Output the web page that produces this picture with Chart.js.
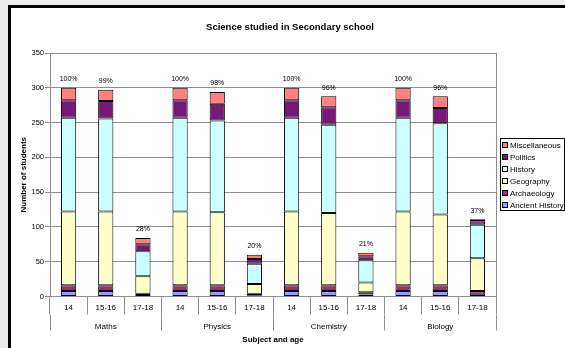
<!DOCTYPE html>
<html>
<head>
<meta charset="utf-8">
<script src="https://cdn.jsdelivr.net/npm/chart.js@4/dist/chart.umd.min.js"></script>
<style>
  html, body { margin: 0; padding: 0; background: #ececec; }
  #c { display: block; }
</style>
</head>
<body>
<canvas id="c" width="565" height="348"></canvas>
<script>
// ---- data ----
const chartTitle = 'Science studied in Secondary school';
const subjects = ['Maths', 'Physics', 'Chemistry', 'Biology'];
const ageGroups = ['14', '15-16', '17-18'];
const cohortSize = 300;            // students per age group; basis of the % labels
const yAxisMax = 350;
const yAxisStep = 50;

const seriesNames = ['Ancient History', 'Archaeology', 'Geography', 'History', 'Politics', 'Miscellaneous'];
const ancientHistory = [8, 8, 2,   8, 8, 1,   8, 8, 3,   8, 8, 4];
const archaeology    = [8, 8, 2,   8, 8, 3,   8, 8, 3,   8, 8, 4];
const geography      = [106, 106, 25,  106, 105, 14,  106, 104, 14,  106, 102, 47];
const history        = [135, 134, 36,  135, 132, 29,  135, 127, 32,  135, 131, 48];
const politics       = [25, 25, 10,  25, 24, 7,  25, 25, 6,  25, 22, 5];
const miscellaneous  = [18, 16, 9,   18, 17, 6,  18, 16, 5,  18, 17, 3];

// ---- styles ----
const FONT = '"Liberation Sans", Arial, sans-serif';
const GRID = '#8e8e8e';
const seriesColors = ['#9999FF', '#993366', '#FFFFCC', '#CCFFFF', '#771A77', '#FF8080'];

const seriesValues = [ancientHistory, archaeology, geography, history, politics, miscellaneous];
const categoryLabels = subjects.flatMap(() => ageGroups);

const datasets = seriesNames.map((name, i) => ({
  label: name,
  data: seriesValues[i],
  backgroundColor: seriesColors[i],
  borderColor: '#000',
  borderWidth: 1,
  borderSkipped: false,
  barPercentage: 0.41,
  categoryPercentage: 1
}));

// frame, page background and plot-area border
const framePlugin = {
  id: 'frame',
  beforeDraw(chart) {
    const ctx = chart.ctx;
    ctx.save();
    ctx.fillStyle = '#ececec';
    ctx.fillRect(0, 0, chart.width, chart.height);
    ctx.fillStyle = '#000';
    ctx.fillRect(8, 5, chart.width - 8, 3);
    ctx.fillRect(8, 5, 3, chart.height - 5);
    ctx.fillStyle = '#fff';
    ctx.fillRect(11, 8, chart.width - 11, chart.height - 8);
    ctx.restore();
  },
  beforeDatasetsDraw(chart) {
    const a = chart.chartArea, ctx = chart.ctx;
    ctx.save();
    ctx.strokeStyle = GRID;
    ctx.lineWidth = 1;
    ctx.beginPath();
    ctx.moveTo(Math.round(a.right) + 0.5, a.top);
    ctx.lineTo(Math.round(a.right) + 0.5, a.bottom);
    ctx.stroke();
    ctx.restore();
  }
};

// heading text
const headingPlugin = {
  id: 'heading',
  afterDraw(chart) {
    const ctx = chart.ctx;
    ctx.save();
    ctx.font = 'bold 9.5px ' + FONT;
    ctx.fillStyle = '#000';
    ctx.textAlign = 'center';
    ctx.textBaseline = 'middle';
    ctx.fillText(chartTitle, 290, 27.5);
    ctx.restore();
  }
};

// percentage of the cohort above each stacked column
const percentPlugin = {
  id: 'percentLabels',
  afterDatasetsDraw(chart) {
    const ctx = chart.ctx, y = chart.scales.y, x = chart.scales.x;
    ctx.save();
    ctx.font = '7px ' + FONT;
    ctx.fillStyle = '#000';
    ctx.textAlign = 'center';
    ctx.textBaseline = 'middle';
    categoryLabels.forEach((_, i) => {
      const total = seriesValues.reduce((s, arr) => s + arr[i], 0);
      const pct = Math.round(total / cohortSize * 100) + '%';
      ctx.fillText(pct, x.getPixelForValue(i), y.getPixelForValue(total) - 8.5);
    });
    ctx.restore();
  }
};

// boxed legend, top series first
const boxedLegendPlugin = {
  id: 'boxedLegend',
  afterDraw(chart) {
    const ctx = chart.ctx;
    const left = 500.5, top = 138.5, w = 64, h = 72, step = 12.1;
    ctx.save();
    ctx.fillStyle = '#fff';
    ctx.fillRect(left, top, w, h);
    ctx.strokeStyle = '#000';
    ctx.lineWidth = 1;
    ctx.strokeRect(left, top, w, h);
    ctx.font = '8px ' + FONT;
    ctx.textBaseline = 'middle';
    ctx.textAlign = 'left';
    const items = chart.data.datasets.slice().reverse();
    items.forEach((ds, k) => {
      const cy = Math.round(top + 6 + k * step);
      ctx.fillStyle = ds.backgroundColor;
      ctx.fillRect(502.5, cy - 2.5, 5, 5);
      ctx.strokeStyle = '#000';
      ctx.strokeRect(502.5, cy - 2.5, 5, 5);
      ctx.fillStyle = '#000';
      ctx.fillText(ds.label, 510, cy + 0.5);
    });
    ctx.restore();
  }
};

new Chart(document.getElementById('c'), {
  type: 'bar',
  data: { labels: categoryLabels, datasets },
  options: {
    responsive: false,
    devicePixelRatio: 1,
    animation: false,
    layout: { padding: { top: 53, right: 69, bottom: 0, left: 0 } },
    plugins: {
      legend: { display: false },
      title: { display: false },
      tooltip: { enabled: false }
    },
    scales: {
      x: {
        stacked: true,
        offset: true,
        weight: 0,
        grid: { offset: true, drawOnChartArea: false, drawTicks: true, tickLength: 18, color: GRID },
        border: { display: true, color: GRID },
        ticks: { autoSkip: false, maxRotation: 0, padding: -12, color: '#000', font: { size: 8, family: FONT } },
        afterFit(s) { s.height = 18; }
      },
      x2: {
        type: 'category',
        labels: subjects,
        position: 'bottom',
        offset: true,
        weight: 1,
        grid: { offset: true, drawOnChartArea: false, drawTicks: true, tickLength: 16, color: GRID },
        border: { display: false },
        ticks: { autoSkip: false, maxRotation: 0, padding: -9, color: '#000', font: { size: 8, family: FONT } },
        title: { display: true, text: 'Subject and age', color: '#000', font: { size: 8, weight: 'bold', family: FONT }, padding: { top: 0, bottom: 3 } },
        afterFit(s) { s.height = 33.5; }
      },
      y: {
        stacked: true,
        min: 0,
        max: yAxisMax,
        grid: { color: GRID, tickLength: 5 },
        border: { color: GRID },
        ticks: { stepSize: yAxisStep, padding: 1, color: '#000', font: { size: 7.5, family: FONT } },
        title: { display: true, text: 'Number of students', color: '#000', font: { size: 8, weight: 'bold', family: FONT }, padding: { top: 19, bottom: 0 } },
        afterFit(s) { s.width = 50; }
      }
    }
  },
  plugins: [framePlugin, headingPlugin, percentPlugin, boxedLegendPlugin]
});
</script>
</body>
</html>
